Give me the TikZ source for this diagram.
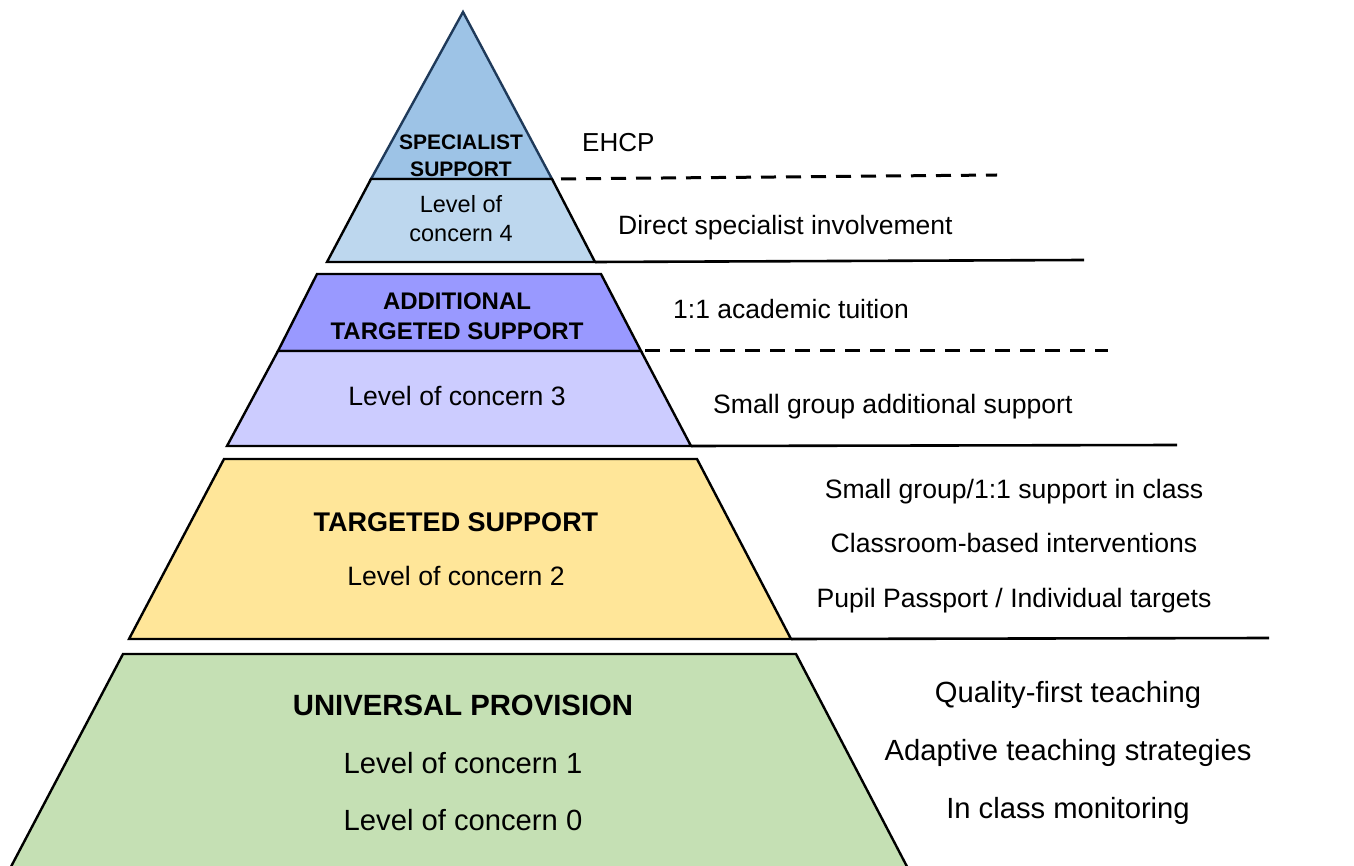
\documentclass[tikz,border=0pt]{standalone}
\usepackage{fontspec}
\setmainfont{Liberation Sans}
\usepackage{tikz}
\definecolor{specblue}{HTML}{9DC3E6}
\definecolor{specedge}{HTML}{1F3A5A}
\definecolor{lvlfour}{HTML}{BDD7EE}
\definecolor{addblue}{HTML}{9999FF}
\definecolor{lvlthree}{HTML}{CCCCFF}
\definecolor{targold}{HTML}{FFE699}
\definecolor{univgreen}{HTML}{C5E0B4}

\begin{document}
\begin{tikzpicture}[x=1pt, y=-1pt,
    layer/.style={draw=black, line width=2.4pt, line join=miter},
    cut/.style={line width=2.6pt},
    dashcut/.style={line width=3pt, dash pattern=on 15pt off 10pt},
    head/.style={font=\bfseries\fontsize{#1}{#1}\selectfont, anchor=base, inner sep=0pt},
    txt/.style={font=\fontsize{#1}{#1}\selectfont, anchor=base, inner sep=0pt},
    item/.style={txt=#1, anchor=base west}]
    \clip (0,0) rectangle (1354,866);

    % corners of the pyramid
    \coordinate (apex) at (463,12);
    \coordinate (s4l) at (371,179);  \coordinate (s4r) at (552,179);
    \coordinate (l4l) at (327,262);  \coordinate (l4r) at (595,262);
    \coordinate (a3tl) at (317,274); \coordinate (a3tr) at (601,274);
    \coordinate (a3ml) at (278,351); \coordinate (a3mr) at (641,351);
    \coordinate (a3bl) at (227,446); \coordinate (a3br) at (691,446);
    \coordinate (t2tl) at (224,459); \coordinate (t2tr) at (697,459);
    \coordinate (t2bl) at (129,639); \coordinate (t2br) at (791,639);
    \coordinate (u1tl) at (123,654); \coordinate (u1tr) at (796,654);
    \coordinate (u1bl) at (4,880);   \coordinate (u1br) at (914,880);

    % free ends of the dividers
    \coordinate (e1) at (997,175);
    \coordinate (e2) at (1084,260);
    \coordinate (e3) at (1108,351);
    \coordinate (e4) at (1177,445);
    \coordinate (e5) at (1269,638);

    % layers
    \draw[layer, draw=specedge, fill=specblue] (apex) -- (s4r) -- (s4l) -- cycle;
    \draw[layer, fill=lvlfour] (s4l) -- (s4r) -- (l4r) -- (l4l) -- cycle;
    \draw[layer, fill=addblue] (a3tl) -- (a3tr) -- (a3mr) -- (a3ml) -- cycle;
    \draw[layer, fill=lvlthree] (a3ml) -- (a3mr) -- (a3br) -- (a3bl) -- cycle;
    \draw[layer, fill=targold] (t2tl) -- (t2tr) -- (t2br) -- (t2bl) -- cycle;
    \draw[layer, fill=univgreen] (u1tl) -- (u1tr) -- (u1br) -- (u1bl) -- cycle;

    % dividers
    \draw[dashcut, shorten <=9pt] (s4r) -- (e1);
    \draw[cut] (l4r) -- (e2);
    \draw[dashcut, shorten <=4pt] (a3mr) -- (e3);
    \draw[cut] (a3br) -- (e4);
    \draw[cut] (t2br) -- (e5);

    % labels inside the pyramid
    \node[head=21] (spec1) at (461,150) {SPECIALIST};
    \node[head=21] (spec2) at (461,177) {SUPPORT};
    \node[txt=23.5] (lc4a) at (461,213) {Level of};
    \node[txt=23.5] (lc4b) at (461,242) {concern 4};
    \node[head=24] (add1) at (457,310) {ADDITIONAL};
    \node[head=24] (add2) at (457,340) {TARGETED SUPPORT};
    \node[txt=26.6] (lc3) at (457,405) {Level of concern 3};
    \node[head=27] (targ) at (456,531) {TARGETED SUPPORT};
    \node[txt=26.6] (lc2) at (456,585) {Level of concern 2};
    \node[head=29.3] (univ) at (463,715) {UNIVERSAL PROVISION};
    \node[txt=29.2] (lc1) at (463,773) {Level of concern 1};
    \node[txt=29.2] (lc0) at (463,830) {Level of concern 0};

    % provision beside the pyramid
    \node[item=26] (ehcp) at (582,152) {EHCP};
    \node[item=26.5] (direct) at (618,235) {Direct specialist involvement};
    \node[item=26.5] (tuition) at (673,319) {1:1 academic tuition};
    \node[item=26.6] (small) at (713,413) {Small group additional support};
    \node[txt=26.6] (inclass) at (1014,498) {Small group/1:1 support in class};
    \node[txt=26.6] (interv) at (1014,552) {Classroom-based interventions};
    \node[txt=26.6] (passport) at (1014,607) {Pupil Passport / Individual targets};
    \node[txt=29.2] (quality) at (1068,702) {Quality-first teaching};
    \node[txt=29.2] (adaptive) at (1068,760) {Adaptive teaching strategies};
    \node[txt=29.2] (monitor) at (1068,818) {In class monitoring};
\end{tikzpicture}
\end{document}
